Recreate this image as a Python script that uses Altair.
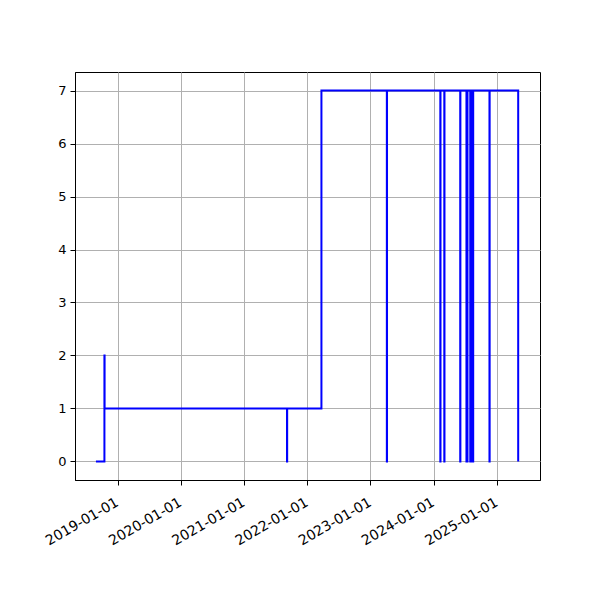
import altair as alt
import pandas as pd

# step series (value holds until the next date)
dates = [
    "2018-08-29", "2018-10-17", "2018-10-18",
    "2021-09-06", "2021-09-07",
    "2022-03-24",
    "2023-04-06", "2023-04-07",
    "2024-02-09", "2024-02-10",
    "2024-03-03", "2024-03-04",
    "2024-06-03", "2024-06-04",
    "2024-07-09", "2024-07-10",
    "2024-07-14", "2024-07-15",
    "2024-07-31", "2024-08-01",
    "2024-08-08", "2024-08-09",
    "2024-08-16", "2024-08-17",
    "2024-11-19", "2024-11-20",
    "2025-05-04",
]
values = [
    0, 2, 1,
    0, 1,
    7,
    0, 7,
    0, 7,
    0, 7,
    0, 7,
    0, 7,
    0, 7,
    0, 7,
    0, 7,
    0, 7,
    0, 7,
    0,
]
tick_dates = ["2019-01-01", "2020-01-01", "2021-01-01", "2022-01-01",
              "2023-01-01", "2024-01-01", "2025-01-01"]
x_range = ["2018-04-30", "2025-09-07"]
y_ticks = [0, 1, 2, 3, 4, 5, 6, 7]
y_range = [-0.35, 7.35]

def ms(s):
    return int(pd.Timestamp(s, tz="UTC").timestamp() * 1000)

df = pd.DataFrame({"date": dates, "value": values})

FONT = "DejaVu Sans"

chart = alt.Chart(df).mark_line(
    interpolate="step-after", color="#0000ff", strokeWidth=2
).encode(
    x=alt.X(
        "date:T",
        scale=alt.Scale(type="utc", domain=[ms(d) for d in x_range], nice=False),
        axis=alt.Axis(
            values=[ms(d) for d in tick_dates],
            labelExpr="utcFormat(datum.value, '%Y-%m-%d')",
            labelAngle=-30,
            labelAlign="right",
            labelBaseline="top",
            labelFontSize=14,
            labelPadding=10,
            labelOffset=-4,
            title=None,
        ),
    ),
    y=alt.Y(
        "value:Q",
        scale=alt.Scale(domain=y_range, nice=False, zero=False),
        axis=alt.Axis(values=y_ticks, format="d", title=None),
    ),
).properties(
    width=465,
    height=408,
    autosize=alt.AutoSizeParams(type="none"),
    padding={"left": 67, "top": 64, "right": 52, "bottom": 112},
).configure_axis(
    grid=True,
    gridColor="#b0b0b0",
    gridWidth=1,
    domainColor="black",
    domainWidth=1,
    tickColor="black",
    tickSize=5,
    tickWidth=1,
    labelFont=FONT,
    labelFontSize=13,
    labelColor="black",
    labelPadding=4,
    labelOverlap=False,
).configure_view(
    stroke="black", strokeWidth=1
)

chart.save("out.html", embed_options={"renderer": "svg", "actions": False})
